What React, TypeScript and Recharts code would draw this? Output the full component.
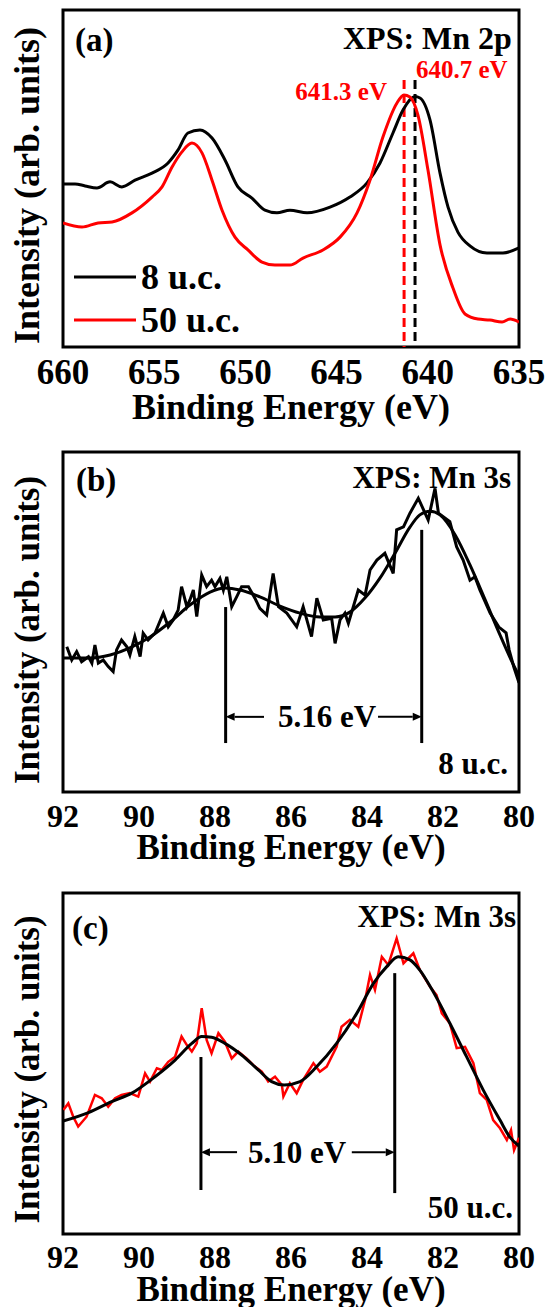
import React from 'react';
import { LineChart, Line, XAxis, YAxis, ReferenceArea, ReferenceLine, ReferenceDot, Legend } from 'recharts';

const FONT = '"Liberation Serif", "Times New Roman", Times, serif';
const RED = '#ff0000';
const BLACK = '#000000';

// ---------- Panel (a): XPS Mn 2p ----------
const mn2pTicks = [660, 655, 650, 645, 640, 635];
const mn2pMinorTicks = [660, 657.5, 655, 652.5, 650, 647.5, 645, 642.5, 640, 637.5, 635];
const mn2pSeriesNames = ['8 u.c.', '50 u.c.'];
const mn2pEnergy8 = [660.0, 659.34, 658.79, 658.14, 657.42, 656.77, 656.05, 655.12, 654.24, 653.7, 653.15, 652.49, 651.83, 651.12, 650.41, 649.64, 648.93, 648.27, 647.56, 646.62, 645.36, 644.27, 643.33, 642.62, 641.91, 641.36, 640.7, 640.43, 639.88, 639.33, 638.89, 638.35, 637.69, 636.76, 635.88, 635.0];
const mn2pIntensity8 = [48.4, 48.4, 47.8, 47.2, 49.0, 47.5, 49.5, 51.6, 54.6, 58.4, 63.5, 64.4, 62.0, 55.5, 47.5, 44.2, 40.6, 39.8, 40.6, 39.8, 41.5, 44.5, 48.7, 54.6, 63.5, 70.3, 74.3, 73.9, 67.4, 51.6, 41.5, 34.1, 30.0, 27.9, 27.9, 29.4];
const mn2pEnergy50 = [660.0, 658.96, 658.08, 657.31, 656.22, 655.12, 654.57, 654.02, 653.48, 652.93, 652.38, 651.83, 651.28, 650.57, 649.86, 649.09, 648.38, 647.56, 646.84, 645.75, 644.81, 643.88, 643.17, 642.46, 641.69, 641.31, 640.98, 640.54, 639.99, 639.33, 638.62, 637.96, 637.25, 636.59, 635.93, 635.49, 635.0];
const mn2pIntensity50 = [36.8, 35.6, 36.8, 37.1, 39.8, 44.5, 47.5, 53.4, 57.9, 60.5, 57.6, 49.5, 40.6, 32.6, 28.8, 25.2, 24.3, 24.3, 26.4, 28.8, 32.6, 39.8, 49.5, 62.3, 72.4, 74.8, 74.2, 68.8, 52.5, 30.3, 17.5, 9.8, 8.3, 8.0, 7.4, 8.3, 7.4];
const mn2pPeak50 = 641.3;
const mn2pPeak8 = 640.7;
const mn2pPeakLineTop = 79.2;

// ---------- Panel (b): XPS Mn 3s, 8 u.c. ----------
const mn3sTicks = [92, 90, 88, 86, 84, 82, 80];
const mn3sMinorTicks = [92, 91, 90, 89, 88, 87, 86, 85, 84, 83, 82, 81, 80];
const mn3sEnergy8Raw = [91.9, 91.77, 91.64, 91.51, 91.33, 91.24, 91.16, 91.07, 90.94, 90.81, 90.68, 90.59, 90.46, 90.32, 90.24, 90.11, 89.97, 89.89, 89.76, 89.58, 89.36, 89.23, 89.1, 88.97, 88.88, 88.74, 88.66, 88.57, 88.48, 88.35, 88.22, 88.09, 88.0, 87.87, 87.78, 87.69, 87.56, 87.43, 87.3, 87.12, 86.95, 86.82, 86.64, 86.47, 86.33, 86.11, 85.85, 85.68, 85.46, 85.32, 85.15, 84.93, 84.84, 84.71, 84.58, 84.49, 84.23, 84.05, 83.92, 83.74, 83.53, 83.31, 83.22, 83.04, 82.87, 82.65, 82.39, 82.21, 82.12, 81.82, 81.64, 81.47, 81.29, 81.16, 81.03, 80.76, 80.53, 80.34, 80.26, 80.13, 80.0];
const mn3sIntensity8Raw = [42.7, 38.8, 41.3, 38.3, 39.8, 37.9, 43.2, 37.9, 38.8, 36.9, 35.4, 41.8, 44.7, 42.7, 40.3, 45.7, 39.8, 46.7, 44.7, 46.7, 52.6, 48.6, 50.6, 53.5, 60.4, 54.5, 56.5, 59.4, 51.6, 63.8, 60.4, 62.3, 60.4, 62.8, 59.4, 63.3, 54.5, 57.4, 60.4, 60.4, 57.0, 54.0, 52.1, 64.3, 54.5, 52.6, 48.6, 54.5, 45.7, 57.0, 50.6, 51.1, 43.7, 50.6, 52.6, 49.6, 59.4, 57.9, 65.3, 68.2, 70.2, 64.3, 77.1, 78.0, 82.0, 86.4, 80.0, 89.3, 82.0, 79.5, 72.1, 68.2, 62.3, 63.3, 59.4, 52.6, 48.5, 46.8, 41.8, 36.5, 32.1];
const mn3sEnergy8Fit = [92.0, 91.29, 90.76, 90.24, 89.71, 89.18, 88.66, 88.13, 87.74, 87.34, 86.82, 86.29, 85.76, 85.24, 84.84, 84.45, 84.05, 83.66, 83.26, 82.87, 82.61, 82.34, 82.08, 81.68, 81.29, 80.89, 80.5, 80.18, 80.0];
const mn3sIntensity8Fit = [39.4, 39.4, 40.3, 42.4, 45.6, 50.0, 55.0, 58.8, 60.0, 59.4, 57.4, 54.7, 52.6, 51.5, 51.5, 52.9, 57.1, 62.9, 70.3, 77.9, 81.5, 82.6, 81.5, 75.6, 66.8, 56.5, 46.2, 38.2, 34.1];
const mn3sSplit8 = [87.72, 82.56];
const mn3sSplit8Tops = [54.4, 77.1];
const mn3sSplit8Bottom = 14.4;
const mn3sSplit8Arrow = { y: 22.1, leftStart: 86.71, rightStart: 83.71, label: '5.16 eV', labelX: 85.05 };

// ---------- Panel (c): XPS Mn 3s, 50 u.c. ----------
const mn3sEnergy50Raw = [91.99, 91.86, 91.73, 91.6, 91.38, 91.16, 90.98, 90.81, 90.63, 90.46, 90.24, 90.02, 89.84, 89.71, 89.53, 89.4, 89.23, 89.05, 88.88, 88.74, 88.61, 88.48, 88.35, 88.22, 88.09, 87.91, 87.74, 87.56, 87.39, 87.17, 86.95, 86.77, 86.6, 86.42, 86.24, 86.2, 86.03, 85.85, 85.68, 85.41, 85.24, 85.06, 84.8, 84.67, 84.45, 84.23, 84.05, 83.92, 83.79, 83.61, 83.44, 83.22, 83.04, 82.78, 82.61, 82.34, 82.17, 82.03, 81.82, 81.64, 81.42, 81.2, 81.03, 80.85, 80.68, 80.5, 80.32, 80.21, 80.13, 80.0];
const mn3sIntensity50Raw = [36.4, 38.3, 34.4, 31.5, 34.4, 40.8, 39.8, 37.3, 39.8, 40.8, 41.3, 40.3, 47.1, 44.7, 48.6, 48.1, 50.5, 52.0, 57.9, 55.4, 53.5, 55.9, 66.2, 56.9, 53.0, 58.9, 56.4, 51.5, 53.5, 51.5, 49.1, 47.6, 44.7, 46.1, 43.7, 40.3, 44.2, 41.3, 45.2, 50.1, 47.6, 49.1, 54.9, 60.8, 62.8, 60.8, 68.6, 76.0, 71.6, 81.3, 78.9, 86.7, 79.4, 82.3, 77.4, 72.5, 70.1, 64.7, 61.8, 54.5, 54.9, 50.1, 41.3, 39.3, 33.4, 31.0, 27.6, 30.5, 24.6, 28.2];
const mn3sEnergy50Fit = [92.0, 91.33, 90.72, 90.19, 89.58, 89.05, 88.61, 88.35, 88.09, 87.74, 87.3, 86.86, 86.51, 86.18, 85.76, 85.32, 84.8, 84.27, 83.83, 83.48, 83.18, 82.87, 82.61, 82.26, 81.82, 81.38, 80.94, 80.5, 80.24, 80.0];
const mn3sIntensity50Fit = [33.1, 35.6, 38.8, 41.3, 46.1, 51.0, 55.9, 57.9, 57.7, 55.9, 52.5, 48.1, 44.7, 43.7, 44.7, 49.1, 55.9, 64.7, 73.5, 78.4, 81.3, 80.4, 77.4, 71.1, 61.8, 52.0, 42.2, 33.4, 28.4, 25.8];
const mn3sSplit50 = [88.37, 83.27];
const mn3sSplit50Tops = [51.9, 76.5];
const mn3sSplit50Bottoms = [12.9, 12.0];
const mn3sSplit50Arrow = { y: 24.0, leftStart: 87.42, rightStart: 84.4, label: '5.10 eV', labelX: 85.84 };

const zip = (xs: number[], ys: number[]) => xs.map((e, k) => ({ e, intensity: ys[k] }));

const textShape = (str: string, size: number, anchor: 'start' | 'middle' | 'end' = 'start', color = BLACK) => (p: any) => (
  <text x={p.cx} y={p.cy} textAnchor={anchor} dominantBaseline="central" fontFamily={FONT} fontWeight="bold" fontSize={size} fill={color}>
    {str}
  </text>
);

const arrowShape = (p: any) => {
  const { x1, y1, x2, y2 } = p;
  const dir = Math.sign(x2 - x1) || 1;
  const L = 9;
  const W = 4;
  return (
    <g>
      <line x1={x1} y1={y1} x2={x2 - dir * L} y2={y2} stroke={BLACK} strokeWidth={2} />
      <polygon points={`${x2},${y2} ${x2 - dir * L},${y2 - W} ${x2 - dir * L},${y2 + W}`} fill={BLACK} />
    </g>
  );
};

const yTitle = (shift: number, size: number) => (p: any) => {
  const vb = p.viewBox;
  const cx = vb.x + 27;
  const cy = vb.y + vb.height / 2 + shift;
  return (
    <text x={cx} y={cy} transform={`rotate(-90 ${cx} ${cy})`} textAnchor="middle" dominantBaseline="central" fontFamily={FONT} fontWeight="bold" fontSize={size} fill={BLACK}>
      Intensity (arb. units)
    </text>
  );
};

const xTitle = (dy: number, size: number) => (p: any) => {
  const vb = p.viewBox;
  return (
    <text x={vb.x + vb.width / 2} y={vb.y + dy} textAnchor="middle" fontFamily={FONT} fontWeight="bold" fontSize={size} fill={BLACK}>
      Binding Energy (eV)
    </text>
  );
};

const legendContent = (props: any) => {
  const payload = [...(props.payload || [])].sort(
    (a: any, b: any) => mn2pSeriesNames.indexOf(a.value) - mn2pSeriesNames.indexOf(b.value)
  );
  return (
    <svg width={220} height={100} style={{ overflow: 'visible' }}>
      {payload.map((p: any, k: number) => (
        <g key={k}>
          <line x1={4} x2={66} y1={27 + k * 43} y2={27 + k * 43} stroke={p.color} strokeWidth={3} />
          <text x={71} y={27 + k * 43} dominantBaseline="central" fontSize={36} fontWeight="bold" fontFamily={FONT} fill={BLACK}>
            {p.value}
          </text>
        </g>
      ))}
    </svg>
  );
};

const tickStyle = (size: number) => ({ fontSize: size, fontWeight: 'bold', fill: BLACK, fontFamily: FONT });

function PanelA() {
  return (
    <LineChart width={548} height={440} margin={{ top: 10, right: 29, bottom: 0, left: 0 }}>
      <XAxis dataKey="e" type="number" domain={[635, 660]} reversed allowDataOverflow ticks={mn2pTicks} interval={0}
        axisLine={false} tickLine={false} tickSize={0} tickMargin={12} height={93} tick={tickStyle(35)}
        label={{ content: xTitle(72, 36) }} />
      <XAxis xAxisId="minor" type="number" domain={[635, 660]} reversed allowDataOverflow ticks={mn2pMinorTicks} interval={0}
        mirror axisLine={false} tick={false} tickLine={{ stroke: BLACK, strokeWidth: 2.5 }} tickSize={6} />
      <YAxis type="number" domain={[0, 100]} width={63} tick={false} axisLine={false} tickLine={false} label={{ content: yTitle(7, 36) }} />
      <ReferenceArea x1={660} x2={635} y1={0} y2={100} fill="none" stroke={BLACK} strokeWidth={3} />
      <ReferenceLine segment={[{ x: mn2pPeak50, y: mn2pPeakLineTop }, { x: mn2pPeak50, y: 0 }]} stroke={RED} strokeWidth={3} strokeDasharray="9 5" />
      <ReferenceLine segment={[{ x: mn2pPeak8, y: mn2pPeakLineTop }, { x: mn2pPeak8, y: 0 }]} stroke={BLACK} strokeWidth={3} strokeDasharray="9 5" />
      <Line data={zip(mn2pEnergy8, mn2pIntensity8)} dataKey="intensity" name={mn2pSeriesNames[0]} type="monotone" stroke={BLACK} strokeWidth={3} dot={false} isAnimationActive={false} />
      <Line data={zip(mn2pEnergy50, mn2pIntensity50)} dataKey="intensity" name={mn2pSeriesNames[1]} type="monotone" stroke={RED} strokeWidth={3} dot={false} isAnimationActive={false} />
      <ReferenceDot x={659.34} y={91.1} shape={textShape('(a)', 33)} />
      <ReferenceDot x={635.39} y={91.7} shape={textShape('XPS: Mn 2p', 32, 'end')} />
      <ReferenceDot x={642.24} y={75.7} shape={textShape('641.3 eV', 25, 'end', RED)} />
      <ReferenceDot x={640.65} y={82.2} shape={textShape('640.7 eV', 25, 'start', RED)} />
      <Legend layout="horizontal" verticalAlign="middle" align="center" content={legendContent}
        wrapperStyle={{ position: 'absolute', left: 70, top: 250, width: 220, height: 100 }} />
    </LineChart>
  );
}

function PanelB() {
  return (
    <LineChart width={548} height={440} margin={{ top: 12, right: 29, bottom: 0, left: 0 }}>
      <XAxis dataKey="e" type="number" domain={[80, 92]} reversed allowDataOverflow ticks={mn3sTicks} interval={0}
        axisLine={false} tickLine={false} tickSize={0} tickMargin={12} height={88} tick={tickStyle(32)}
        label={{ content: xTitle(67, 35) }} />
      <XAxis xAxisId="minor" type="number" domain={[80, 92]} reversed allowDataOverflow ticks={mn3sMinorTicks} interval={0}
        mirror axisLine={false} tick={false} tickLine={{ stroke: BLACK, strokeWidth: 2.5 }} tickSize={6} />
      <YAxis type="number" domain={[0, 100]} width={63} tick={false} axisLine={false} tickLine={false} label={{ content: yTitle(8, 35) }} />
      <ReferenceArea x1={92} x2={80} y1={0} y2={100} fill="none" stroke={BLACK} strokeWidth={3} />
      <Line data={zip(mn3sEnergy8Raw, mn3sIntensity8Raw)} dataKey="intensity" name="8 u.c. data" type="linear" stroke={BLACK} strokeWidth={3} dot={false} isAnimationActive={false} />
      <Line data={zip(mn3sEnergy8Fit, mn3sIntensity8Fit)} dataKey="intensity" name="8 u.c. fit" type="monotone" stroke={BLACK} strokeWidth={3} dot={false} isAnimationActive={false} />
      {mn3sSplit8.map((e, k) => (
        <ReferenceLine key={k} segment={[{ x: e, y: mn3sSplit8Tops[k] }, { x: e, y: mn3sSplit8Bottom }]} stroke={BLACK} strokeWidth={3} />
      ))}
      <ReferenceLine segment={[{ x: mn3sSplit8Arrow.leftStart, y: mn3sSplit8Arrow.y }, { x: mn3sSplit8[0], y: mn3sSplit8Arrow.y }]} shape={arrowShape} />
      <ReferenceLine segment={[{ x: mn3sSplit8Arrow.rightStart, y: mn3sSplit8Arrow.y }, { x: mn3sSplit8[1], y: mn3sSplit8Arrow.y }]} shape={arrowShape} />
      <ReferenceDot x={mn3sSplit8Arrow.labelX} y={mn3sSplit8Arrow.y} shape={textShape(mn3sSplit8Arrow.label, 31, 'middle')} />
      <ReferenceDot x={91.66} y={91.8} shape={textShape('(b)', 33)} />
      <ReferenceDot x={80.21} y={92.6} shape={textShape('XPS: Mn 3s', 31, 'end')} />
      <ReferenceDot x={80.29} y={8.5} shape={textShape('8 u.c.', 31, 'end')} />
    </LineChart>
  );
}

function PanelC() {
  return (
    <LineChart width={548} height={427} margin={{ top: 13, right: 29, bottom: 0, left: 0 }}>
      <XAxis dataKey="e" type="number" domain={[80, 92]} reversed allowDataOverflow ticks={mn3sTicks} interval={0}
        axisLine={false} tickLine={false} tickSize={0} tickMargin={11} height={73} tick={tickStyle(32)}
        label={{ content: xTitle(67, 35) }} />
      <XAxis xAxisId="minor" type="number" domain={[80, 92]} reversed allowDataOverflow ticks={mn3sMinorTicks} interval={0}
        mirror axisLine={false} tick={false} tickLine={{ stroke: BLACK, strokeWidth: 2.5 }} tickSize={6} />
      <YAxis type="number" domain={[0, 100]} width={63} tick={false} axisLine={false} tickLine={false} label={{ content: yTitle(6, 35) }} />
      <ReferenceArea x1={92} x2={80} y1={0} y2={100} fill="none" stroke={BLACK} strokeWidth={3} />
      <Line data={zip(mn3sEnergy50Raw, mn3sIntensity50Raw)} dataKey="intensity" name="50 u.c. data" type="linear" stroke={RED} strokeWidth={2.5} dot={false} isAnimationActive={false} />
      <Line data={zip(mn3sEnergy50Fit, mn3sIntensity50Fit)} dataKey="intensity" name="50 u.c. fit" type="monotone" stroke={BLACK} strokeWidth={3} dot={false} isAnimationActive={false} />
      {mn3sSplit50.map((e, k) => (
        <ReferenceLine key={k} segment={[{ x: e, y: mn3sSplit50Tops[k] }, { x: e, y: mn3sSplit50Bottoms[k] }]} stroke={BLACK} strokeWidth={3} />
      ))}
      <ReferenceLine segment={[{ x: mn3sSplit50Arrow.leftStart, y: mn3sSplit50Arrow.y }, { x: mn3sSplit50[0], y: mn3sSplit50Arrow.y }]} shape={arrowShape} />
      <ReferenceLine segment={[{ x: mn3sSplit50Arrow.rightStart, y: mn3sSplit50Arrow.y }, { x: mn3sSplit50[1], y: mn3sSplit50Arrow.y }]} shape={arrowShape} />
      <ReferenceDot x={mn3sSplit50Arrow.labelX} y={mn3sSplit50Arrow.y} shape={textShape(mn3sSplit50Arrow.label, 31, 'middle')} />
      <ReferenceDot x={91.76} y={89.7} shape={textShape('(c)', 33)} />
      <ReferenceDot x={80.08} y={93.0} shape={textShape('XPS: Mn 3s', 31, 'end')} />
      <ReferenceDot x={80.16} y={7.9} shape={textShape('50 u.c.', 31, 'end')} />
    </LineChart>
  );
}

export default function App() {
  return (
    <div style={{ position: 'absolute', left: 0, top: 0, width: 548, height: 1307, background: '#fff', overflow: 'hidden' }}>
      <div style={{ position: 'absolute', left: 0, top: 0 }}><PanelA /></div>
      <div style={{ position: 'absolute', left: 0, top: 440 }}><PanelB /></div>
      <div style={{ position: 'absolute', left: 0, top: 880 }}><PanelC /></div>
    </div>
  );
}
